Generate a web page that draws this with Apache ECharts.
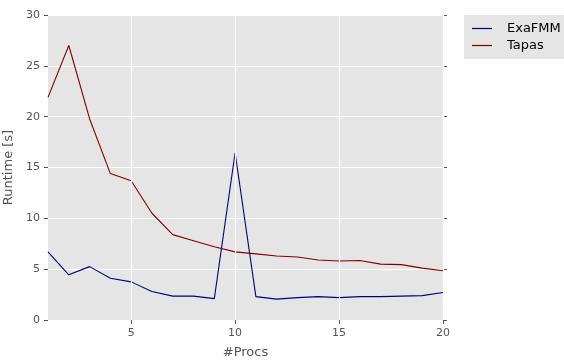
<!DOCTYPE html>
<html>
<head>
<meta charset="utf-8">
<script src="https://cdn.jsdelivr.net/npm/echarts@6/dist/echarts.min.js"></script>
<style>
  html, body { margin: 0; padding: 0; background: #fff; }
  #chart { width: 564px; height: 363px; }
</style>
</head>
<body>
<div id="chart"></div>
<script>
  // values
  var procs = [1, 2, 3, 4, 5, 6, 7, 8, 9, 10, 11, 12, 13, 14, 15, 16, 17, 18, 19, 20];
  var exafmm = [6.7, 4.45, 5.25, 4.1, 3.75, 2.8, 2.35, 2.35, 2.1, 16.45, 2.3, 2.05, 2.2, 2.3, 2.2, 2.3, 2.3, 2.35, 2.4, 2.7];
  var tapas = [21.9, 27.0, 19.8, 14.4, 13.7, 10.5, 8.4, 7.8, 7.2, 6.7, 6.5, 6.3, 6.2, 5.9, 5.8, 5.85, 5.5, 5.45, 5.1, 4.85];
  var xTicks = [5, 10, 15, 20];

  var font = 'DejaVu Sans';
  var tickStyle = { show: true, inside: false, length: 4, lineStyle: { color: '#555', width: 1 } };
  var lineIcon = 'path://M0,0 L20,0 L20,1.2 L0,1.2 Z';

  function pairs(ys) {
    var out = [];
    for (var i = 0; i < procs.length; i++) out.push([procs[i], ys[i]]);
    return out;
  }

  var chart = echarts.init(document.getElementById('chart'), null, { renderer: 'canvas' });
  chart.setOption({
    animation: false,
    backgroundColor: '#fff',
    textStyle: { fontFamily: font },
    grid: {
      show: true, left: 48, right: 121, top: 15, bottom: 43,
      outerBoundsMode: 'none', containLabel: false,
      backgroundColor: '#e5e5e5', borderWidth: 0
    },
    legend: {
      orient: 'vertical',
      left: 464, top: 15,
      backgroundColor: '#e5e5e5',
      padding: [7, 30, 7, 8],
      itemWidth: 20, itemHeight: 14, itemGap: 4,
      textStyle: { fontFamily: font, fontSize: 13, color: '#000', padding: [0, 0, 0, 10] },
      data: [{ name: 'ExaFMM', icon: lineIcon }, { name: 'Tapas', icon: lineIcon }]
    },
    xAxis: [{
      type: 'value', min: 1, max: 20,
      name: '#Procs', nameLocation: 'middle', nameGap: 26,
      nameTextStyle: { fontSize: 13, color: '#555', fontFamily: font },
      axisLine: { show: false },
      axisTick: Object.assign({ customValues: xTicks }, tickStyle),
      axisLabel: { customValues: xTicks, fontSize: 11, color: '#555', fontFamily: font, margin: 8 },
      splitLine: { show: false }
    }, {
      type: 'value', min: 1, max: 20, position: 'top',
      axisLine: { show: false },
      axisTick: Object.assign({ customValues: xTicks }, tickStyle),
      axisLabel: { show: false, customValues: xTicks },
      splitLine: { show: false }
    }],
    yAxis: [{
      type: 'value', min: 0, max: 30, interval: 5,
      name: 'Runtime [s]', nameLocation: 'middle', nameGap: 27,
      nameTextStyle: { fontSize: 13, color: '#555', fontFamily: font },
      axisLine: { show: false },
      axisTick: tickStyle,
      axisLabel: { fontSize: 11, color: '#555', fontFamily: font, margin: 8 },
      splitLine: { show: true, lineStyle: { color: '#fff', width: 1.2 } }
    }, {
      type: 'value', min: 0, max: 30, interval: 5, position: 'right',
      axisLine: { show: false },
      axisTick: tickStyle,
      axisLabel: { show: false },
      splitLine: { show: false }
    }],
    series: [{
      // vertical white grid lines at the x ticks
      type: 'line', data: [], z: 1, silent: true,
      markLine: {
        silent: true, symbol: 'none', label: { show: false },
        lineStyle: { color: '#fff', width: 1.2, type: 'solid' },
        data: xTicks.map(function (v) { return { xAxis: v }; })
      }
    }, {
      name: 'ExaFMM', type: 'line', data: pairs(exafmm), z: 3,
      symbol: 'none', color: '#000080',
      lineStyle: { color: '#000080', width: 1.1 }
    }, {
      name: 'Tapas', type: 'line', data: pairs(tapas), z: 3,
      symbol: 'none', color: '#800000',
      lineStyle: { color: '#800000', width: 1.1 }
    }]
  });
</script>
</body>
</html>
